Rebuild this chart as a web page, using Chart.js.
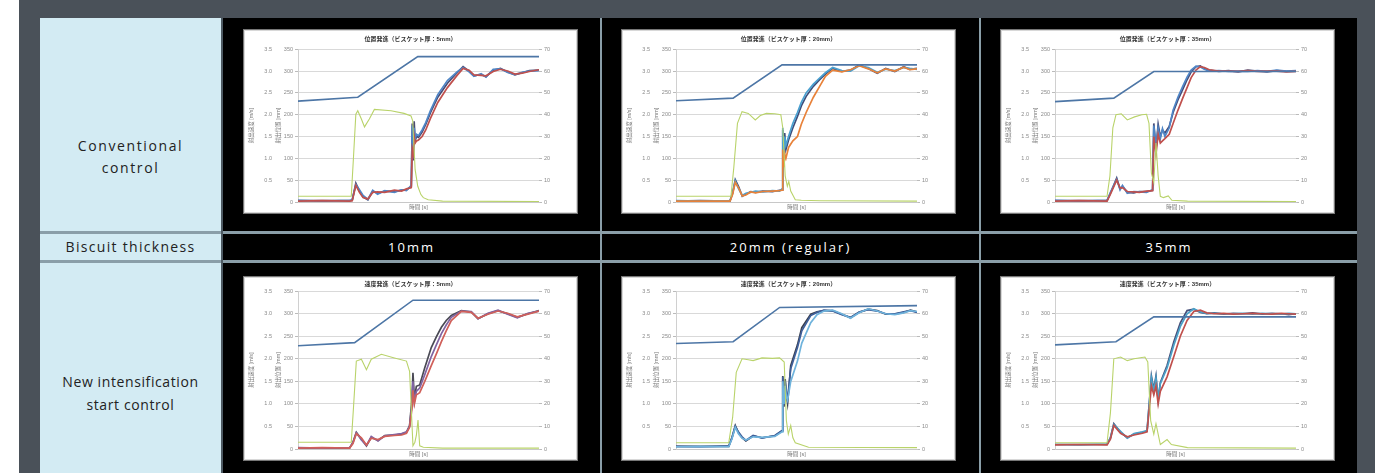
<!DOCTYPE html>
<html><head><meta charset="utf-8">
<script src="https://cdn.jsdelivr.net/npm/chart.js@4.4.0/dist/chart.umd.min.js"></script>
<style>
body{margin:0;width:1382px;height:473px;overflow:hidden;background:#fff;position:relative;font-family:'Open Sans',sans-serif}
.abs{position:absolute}
#panel{left:19px;top:0;width:1356px;height:473px;background:#4a5159}
#table{left:40px;top:18px;width:1317px;height:455px;background:#8a9ea8}
.lab{background:#d3ebf3;color:#222;text-align:center;font-size:14px;line-height:22px;letter-spacing:1.6px;box-sizing:border-box}
.blk{background:#000}
.hdr{color:#fff;display:flex;align-items:center;justify-content:center;font-size:13px;letter-spacing:2px}
.frame{background:#fff;border:1px solid #777;box-sizing:border-box;box-shadow:inset 0 0 0 1px #d8d8d8}
.cw{position:absolute;left:1px;top:1px}
</style></head>
<body>
<div id="panel" class="abs"></div>
<div id="table" class="abs"></div>
<div id="layout"></div>
<script>
// ---------- text ----------
const rowLabels = ['Conventional<br>control', 'Biscuit thickness', 'New intensification<br>start control'];
const thicknessLabels = ['10mm', '20mm (regular)', '35mm'];
const chartTitles = [
  '位置発進（ビスケット厚：5mm）', '位置発進（ビスケット厚：20mm）', '位置発進（ビスケット厚：35mm）',
  '速度発進（ビスケット厚：5mm）', '速度発進（ビスケット厚：20mm）', '速度発進（ビスケット厚：35mm）'
];
const xTitle = '時間 [s]';
const speedTitle = '射出速度 [m/s]';
const posTitle = '射出位置 [mm]';
const speedTicks = ['', '0.5', '1.0', '1.5', '2.0', '2.5', '3.0', '3.5'];
const posTicks = ['0', '50', '100', '150', '200', '250', '300', '350'];
const rightTicks = ['0', '10', '20', '30', '40', '50', '60', '70'];

// ---------- chart A (conventional, 10mm) ----------
const btA = [0, 24.8, 49.7, 100];
const bA = [231, 240, 333, 333];
const gtA = [0, 22.1, 23, 24, 24.8, 26.3, 27.6, 29.6, 31.7, 38.6, 44, 46.9, 47.6, 48.6, 49.7, 51, 52, 54, 60, 100];
const gA = [13, 13, 100, 201, 209, 190, 172, 190, 212, 209, 203, 197, 186, 74, 36, 17, 10, 5, 2, 1];
const tA = [0, 10, 21.5, 22.5, 24, 25.5, 27, 29, 31, 33, 36, 40, 43, 45, 47, 47.4, 47.8, 48.2, 48.6, 49.2, 50, 51.5, 53, 55, 58, 62, 66, 68.5, 71, 73, 76, 78, 81, 84, 87, 90, 93, 96, 100];
const pA1 = [2, 3, 2, 3, 38, 22, 10, 7, 22, 23, 22, 27, 25, 30, 33, 120, 110, 150, 135, 140, 142, 150, 165, 192, 228, 262, 290, 306, 302, 291, 290, 289, 299, 304, 300, 293, 295, 299, 303];
const pA2 = [4, 2, 4, 5, 40, 28, 15, 6, 27, 18, 26, 22, 28, 26, 38, 175, 100, 170, 145, 155, 152, 165, 182, 210, 246, 278, 298, 308, 298, 288, 294, 286, 304, 305, 297, 292, 297, 300, 301];
const pA3 = [3, 3, 3, 4, 43, 25, 12, 5, 25, 20, 25, 24, 27, 28, 35, 180, 95, 185, 140, 150, 148, 160, 178, 205, 240, 272, 296, 310, 300, 289, 292, 287, 302, 306, 298, 291, 296, 301, 302];

// ---------- chart B (conventional, 20mm) ----------
const btB = [0, 23.7, 44, 100];
const bB = [232, 238, 314, 314];
const gtB = [0, 22.8, 24, 25.5, 27.4, 30, 32.9, 35, 37.5, 41, 43.5, 44.3, 45.3, 46.2, 46.8, 47.6, 49.5, 52, 60, 100];
const gB = [13, 13, 80, 180, 207, 203, 188, 198, 203, 202, 200, 170, 60, 36, 47, 25, 5, 4, 3, 2];
const tB = [0, 10, 22.4, 23.5, 24.6, 26, 27.5, 29, 31, 33, 36, 40, 43, 44, 44.3, 44.7, 45.1, 45.6, 46.7, 48.5, 50.4, 52, 54, 57, 59.6, 62, 65, 68.8, 72.4, 76, 79.8, 83.5, 87, 90.8, 94.5, 97, 100];
const pB1 = [2, 2, 2, 18, 45, 32, 14, 16, 23, 21, 24, 25, 26, 27, 120, 80, 110, 100, 125, 140, 150, 178, 205, 240, 265, 288, 302, 298, 303, 312, 305, 296, 305, 300, 309, 303, 305];
const pB2 = [3, 2, 3, 22, 48, 30, 15, 20, 22, 25, 23, 26, 25, 30, 170, 95, 150, 130, 150, 180, 205, 228, 250, 270, 284, 296, 308, 301, 300, 312, 308, 297, 304, 301, 308, 306, 304];
const pB3 = [2, 3, 2, 20, 51, 35, 13, 18, 24, 22, 25, 24, 27, 28, 165, 104, 158, 120, 142, 170, 196, 220, 242, 265, 280, 293, 306, 299, 302, 314, 306, 295, 306, 299, 310, 304, 306];

// ---------- chart C (conventional, 35mm) ----------
const btC = [0, 24.4, 41, 100];
const bC = [230, 238, 299, 299];
const gtC = [0, 21.6, 22.8, 24, 25.3, 27.5, 30, 33, 36, 38, 39, 40, 41, 41.9, 42.8, 43.7, 45, 47, 48.5, 55, 100];
const gC = [13, 13, 60, 170, 200, 202, 188, 195, 200, 201, 180, 66, 45, 135, 60, 13, 10, 14, 4, 2, 1];
const tC = [0, 10, 21.6, 23, 25.6, 27, 28, 30, 32.7, 35, 38, 40.5, 41, 41.9, 42.8, 43.7, 44.6, 45.6, 47.4, 49, 51, 53, 54.8, 56.5, 58.5, 60.3, 62, 64, 68, 72, 76, 80, 84, 88, 92, 96, 100];
const pC1 = [2, 3, 2, 18, 50, 32, 33, 24, 23, 22, 25, 26, 150, 110, 155, 135, 140, 145, 155, 180, 210, 238, 262, 285, 302, 310, 308, 303, 300, 300, 299, 301, 299, 300, 300, 298, 299];
const pC2 = [4, 2, 4, 22, 52, 28, 38, 20, 24, 23, 22, 28, 175, 125, 170, 145, 168, 150, 170, 210, 240, 265, 286, 302, 311, 309, 304, 300, 301, 299, 300, 299, 301, 299, 302, 300, 301];
const pC3 = [3, 3, 3, 20, 55, 30, 36, 22, 21, 24, 24, 27, 180, 120, 178, 150, 165, 158, 173, 205, 234, 258, 280, 298, 310, 312, 305, 302, 299, 301, 298, 302, 300, 298, 301, 299, 300];

// ---------- chart D (new control, 10mm) ----------
const btD = [0, 23.5, 47.7, 100];
const bD = [229, 236, 330, 330];
const gtD = [0, 22.1, 23, 24.2, 26.3, 28.4, 30.4, 34.6, 40, 45, 46.3, 47, 47.7, 48.5, 49.1, 49.8, 50.5, 52, 60, 100];
const gD = [15, 15, 90, 195, 199, 176, 199, 210, 202, 195, 172, 90, 7, 15, 30, 64, 7, 4, 2, 2];
const tD = [0, 10, 21.4, 22.8, 24.2, 26.3, 28.4, 30.4, 33.2, 36, 40, 43, 45, 46.3, 47.3, 47.7, 48.3, 49.1, 50.5, 52.6, 55.3, 57.5, 59.5, 61.5, 63.6, 67.8, 71.9, 74.7, 78.8, 83, 87, 91, 95.4, 100];
const pD1 = [2, 3, 2, 12, 34, 25, 9, 24, 21, 28, 30, 31, 35, 48, 90, 130, 100, 120, 125, 150, 185, 212, 238, 262, 285, 305, 303, 290, 299, 306, 301, 293, 299, 306];
const pD2 = [3, 2, 3, 14, 36, 20, 8, 28, 18, 29, 32, 34, 38, 50, 100, 150, 105, 128, 135, 165, 205, 232, 256, 275, 292, 306, 305, 289, 301, 308, 299, 291, 301, 306];
const pD3 = [2, 2, 2, 15, 37, 22, 7, 26, 19, 30, 31, 33, 37, 52, 112, 169, 110, 139, 142, 180, 225, 250, 270, 285, 296, 307, 304, 289, 300, 307, 300, 292, 300, 307];

// ---------- chart E (new control, 20mm) ----------
const btE = [0, 23.7, 43, 100];
const bE = [234, 238, 314, 318];
const gtE = [0, 21.9, 23.5, 25, 27.4, 30, 32, 35.7, 40, 43, 44.9, 45.8, 46.6, 47.6, 48.5, 49.5, 55, 100];
const gE = [14, 14, 70, 170, 200, 198, 196, 202, 201, 202, 193, 63, 33, 52, 25, 14, 4, 3];
const tE = [0, 10, 21.9, 23.2, 24.6, 26, 27.4, 29, 32, 35.7, 41, 44, 44.3, 44.8, 45.3, 45.8, 46.3, 47.6, 50.4, 52.2, 55.9, 58.5, 61.4, 65, 68.8, 72.4, 76, 79.8, 83.5, 87, 90.8, 94.5, 97.3, 100];
const pE1 = [5, 6, 5, 22, 48, 33, 24, 20, 27, 26, 28, 38, 150, 100, 140, 115, 108, 150, 195, 235, 280, 298, 306, 308, 300, 290, 302, 311, 306, 300, 298, 302, 307, 305];
const pE2 = [6, 5, 7, 24, 50, 37, 27, 19, 30, 24, 30, 41, 160, 98, 150, 125, 110, 178, 225, 262, 296, 303, 308, 306, 298, 292, 304, 309, 306, 300, 300, 304, 307, 303];
const pE3 = [6, 6, 6, 25, 52, 35, 25, 18, 29, 25, 29, 40, 162, 94, 155, 120, 101, 185, 231, 269, 299, 304, 307, 307, 299, 291, 303, 310, 307, 299, 299, 303, 308, 304];

// ---------- chart F (new control, 35mm) ----------
const btF = [0, 25.3, 41, 100];
const bF = [231, 238, 293, 293];
const gtF = [0, 21.6, 23, 24.4, 27.2, 30, 32.8, 37.3, 38.5, 39.7, 41, 41.9, 43.7, 46.5, 48.3, 55, 100];
const gF = [14, 14, 80, 200, 204, 196, 200, 204, 193, 63, 33, 56, 10, 21, 10, 3, 2];
const tF = [0, 10, 21.6, 23, 24.4, 27.2, 30, 32.8, 36.3, 38.2, 40, 41, 41.9, 42.8, 43.7, 46.5, 49.3, 52, 54.8, 57.6, 60.3, 63, 66, 70, 74, 78, 82, 86, 90, 94, 97, 100];
const pF1 = [9, 10, 9, 22, 52, 35, 27, 31, 35, 38, 140, 120, 140, 100, 128, 160, 205, 250, 285, 305, 308, 302, 300, 301, 299, 300, 301, 300, 299, 301, 300, 299];
const pF2 = [10, 9, 11, 24, 54, 39, 24, 34, 38, 41, 158, 128, 158, 112, 145, 180, 230, 272, 300, 311, 304, 301, 301, 300, 300, 301, 299, 301, 300, 299, 301, 300];
const pF3 = [10, 10, 10, 25, 56, 37, 25, 33, 37, 40, 162, 132, 162, 109, 147, 185, 238, 280, 307, 310, 303, 300, 302, 299, 301, 300, 302, 299, 301, 300, 298, 300];

// ---------- build layout ----------
const L = document.getElementById('layout');
function box(cls, x, y, w, h, html){
  const d = document.createElement('div');
  d.className = 'abs ' + cls;
  d.style.left = x + 'px'; d.style.top = y + 'px';
  d.style.width = w + 'px'; d.style.height = h + 'px';
  if (html !== undefined) d.innerHTML = html;
  L.appendChild(d); return d;
}
const colX = [223, 602, 981], colW = [377, 377, 376];
const rowY = [18, 234, 263], rowH = [213, 26, 210];
box('lab', 40, rowY[0], 181, rowH[0], rowLabels[0]).style.paddingTop = '117px';
const bl = box('lab', 40, rowY[1], 181, rowH[1], rowLabels[1]);
bl.style.lineHeight = '26px'; bl.style.letterSpacing = '1.3px';
const nl = box('lab', 40, rowY[2], 181, rowH[2], rowLabels[2]);
nl.style.paddingTop = '107px'; nl.style.letterSpacing = '0.6px'; nl.style.lineHeight = '23px';
const sep = box('', 221, 18, 2, 455); sep.style.background = '#4d5a63';
for (let c = 0; c < 3; c++) {
  box('blk', colX[c], rowY[0], colW[c], rowH[0]);
  box('blk hdr', colX[c], rowY[1], colW[c], rowH[1], thicknessLabels[c]);
  box('blk', colX[c], rowY[2], colW[c], rowH[2]);
}

const chartDefs = [
  {bt: btA, b: bA, gt: gtA, g: gA, t: tA, p: [pA1, pA2, pA3], col: ['#c0504d', '#4f86c6', '#4a4a72']},
  {bt: btB, b: bB, gt: gtB, g: gB, t: tB, p: [pB1, pB2, pB3], col: ['#e8823a', '#4aa0d0', '#3e4d7a']},
  {bt: btC, b: bC, gt: gtC, g: gC, t: tC, p: [pC1, pC2, pC3], col: ['#c0504d', '#4f86c6', '#454a78']},
  {bt: btD, b: bD, gt: gtD, g: gD, t: tD, p: [pD1, pD2, pD3], col: ['#d0605a', '#8064a2', '#4a4a55']},
  {bt: btE, b: bE, gt: gtE, g: gE, t: tE, p: [pE1, pE2, pE3], col: ['#6fb3dc', '#3f5f9a', '#3a4050']},
  {bt: btF, b: bF, gt: gtF, g: gF, t: tF, p: [pF1, pF2, pF3], col: ['#c0504d', '#4aa0c8', '#48507a']}
];
const frameX = [243, 621, 1000], frameY = [29, 276], frameW = 335, frameH = 185;

function pts(xs, ys){ return xs.map((x, i) => ({x: x, y: ys[i]})); }

Chart.defaults.font.family = "'Liberation Sans','Noto Sans CJK JP',sans-serif";
Chart.defaults.color = '#8a8a8a';
const tickFont = {size: 5.5};

chartDefs.forEach((d, k) => {
  const r = k < 3 ? 0 : 1, c = k % 3;
  const fr = box('frame', frameX[c], frameY[r], frameW, frameH);
  const wrap = document.createElement('div');
  wrap.className = 'cw';
  wrap.style.width = (frameW - 2) + 'px'; wrap.style.height = (frameH - 2) + 'px';
  fr.appendChild(wrap);
  const cv = document.createElement('canvas');
  wrap.appendChild(cv);
  const datasets = [
    {data: pts(d.bt, d.b), borderColor: '#4d76a6', borderWidth: 1.6},
    {data: pts(d.gt, d.g), borderColor: '#b9d36a', borderWidth: 1.1}
  ];
  d.p.forEach((arr, i) => datasets.push({data: pts(d.t, arr), borderColor: d.col[i], borderWidth: 1.7}));
  datasets.forEach(ds => { ds.pointRadius = 0; ds.tension = 0; ds.fill = false; ds.yAxisID = 'y'; });
  new Chart(cv, {
    type: 'line',
    data: {datasets: datasets},
    options: {
      responsive: true, maintainAspectRatio: false, animation: false,
      layout: {padding: {left: 1, right: 3, top: r === 0 ? 2 : 0, bottom: 1}},
      plugins: {
        legend: {display: false}, tooltip: {enabled: false},
        title: {display: true, text: chartTitles[k], color: '#333', font: {size: 6, weight: 'bold'}, padding: {top: 3, bottom: r === 0 ? 6 : 3}}
      },
      scales: {
        x: {type: 'linear', min: 0, max: 100, position: 'bottom',
            ticks: {display: false}, grid: {display: false}, border: {color: '#c8c8c8'},
            title: {display: true, text: xTitle, color: '#777', font: {size: 5.5}, padding: {top: 0, bottom: 2}},
            afterFit: s => { s.height = 11; }},
        sp: {type: 'linear', position: 'left', weight: 5, min: 0, max: 3.5,
             ticks: {stepSize: 0.5, font: tickFont, padding: 3, callback: (v, i) => speedTicks[i]},
             grid: {display: false, drawTicks: false}, border: {display: false},
             title: {display: true, text: speedTitle, color: '#777', font: {size: 5.5}, padding: {top: 2, bottom: 0}},
             afterFit: s => { s.width = 29; }},
        y: {type: 'linear', position: 'left', weight: 1, min: 0, max: 350,
            ticks: {stepSize: 50, font: tickFont, padding: 2, callback: (v, i) => posTicks[i]},
            grid: {color: '#d9d9d9', tickLength: 3, tickColor: '#bbb'}, border: {color: '#d0d0d0'},
            title: {display: true, text: posTitle, color: '#777', font: {size: 5.5}, padding: {top: 0, bottom: 0}},
            afterFit: s => { s.width = 23; }},
        rt: {type: 'linear', position: 'right', min: 0, max: 70,
             ticks: {stepSize: 10, font: tickFont, padding: 2, callback: (v, i) => rightTicks[i]},
             grid: {drawOnChartArea: false, tickLength: 3, color: '#bbb'}, border: {display: false},
             afterFit: s => { s.width = 36; }}
      }
    }
  });
});
</script>
</body></html>
